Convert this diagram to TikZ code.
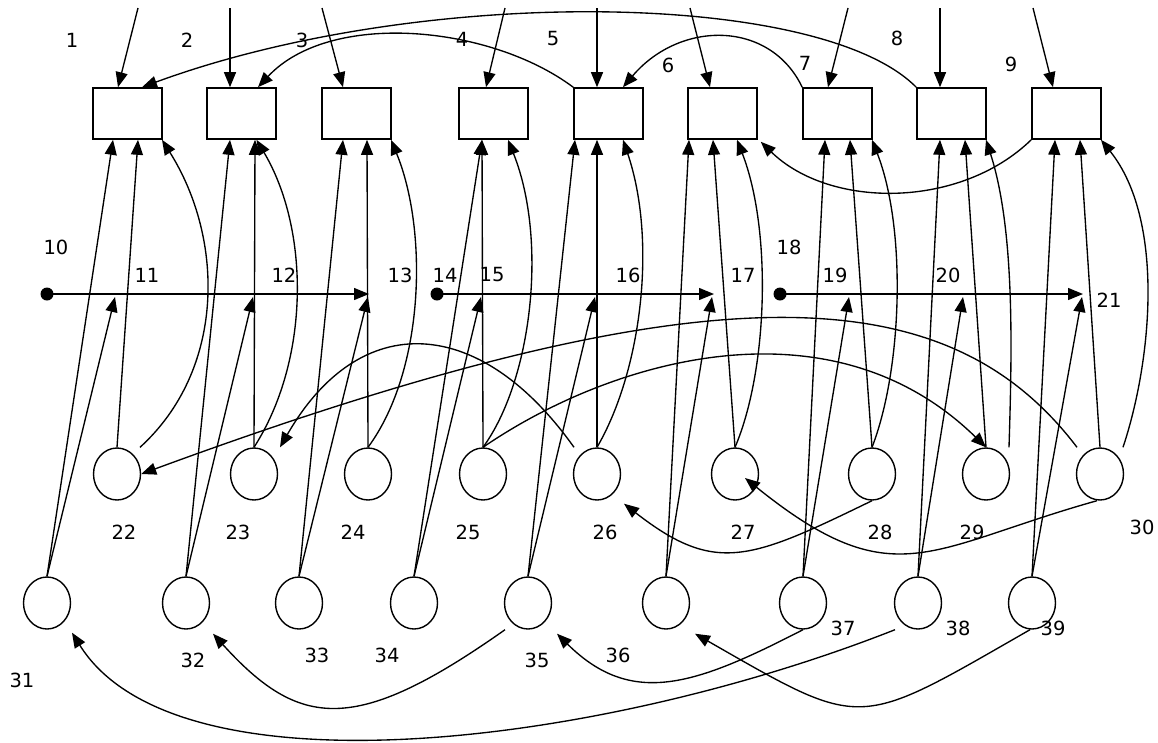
\documentclass[tikz,border=0pt]{standalone}
\usepackage{fontspec}
\setmainfont{DejaVu Sans}
\usetikzlibrary{arrows.meta,shapes.geometric,calc}
\tikzset{
  box/.style={draw,line width=1.6pt,minimum width=69pt,minimum height=51pt,inner sep=0pt},
  circ/.style={ellipse,draw,line width=1.4pt,minimum width=47pt,minimum height=52pt,inner sep=0pt},
  lbl/.style={font=\fontsize{19.5}{20}\selectfont,inner sep=0pt},
  conn/.style={line width=1.35pt,-{Triangle[length=15pt,width=12pt]}},
  dotnode/.style={circle,fill=black,minimum size=13pt,inner sep=0pt}
}
\begin{document}
\begin{tikzpicture}[x=1pt,y=-1pt]
\useasboundingbox[fill=white] (0,0) rectangle (1158,742);
% boxes
\foreach \i/\x in {1/127.5,2/241.5,3/356.5,4/493.5,5/608.5,6/722.5,7/837.5,8/951.5,9/1066.5}
  \node[box] (b\i) at (\x,113.5) {};
% circles row 1
\foreach \i/\x in {22/117,23/254,24/368,25/483,26/597,27/735,28/872,29/986,30/1100}
  \node[circ] (c\i) at (\x,474) {};
% circles row 2
\foreach \i/\x in {31/47,32/186,33/299,34/414,35/528,36/666,37/803,38/918,39/1032}
  \node[circ] (c\i) at (\x,603) {};
% top inputs
\foreach \i/\sx/\dx in {1/138/-9.5,2/230/-11.5,3/322/-13.5,4/505/-7.5,5/597/-11.5,6/690/-12.5,7/848/-9.5,8/940/-11.5,9/1033/-13.5}{
  \coordinate (t\i) at (\sx,8);
  \draw[conn] (t\i) -- ([xshift=\dx pt]b\i.north);
}
% horizontal lines
\node[dotnode] (d10) at (47,294) {};
\node[dotnode] (d14) at (437,294) {};
\node[dotnode] (d18) at (780,294) {};
\coordinate (e13) at (369,294);
\coordinate (e17) at (714,294);
\coordinate (e21) at (1083,294);
\draw[conn] (d10.center) -- (e13);
\draw[conn] (d14.center) -- (e17);
\draw[conn] (d18.center) -- (e21);
\coordinate (p11) at (115,297);
\coordinate (p12) at (253,297);
\coordinate (p13) at (368,297);
\coordinate (p15) at (481,297);
\coordinate (p16) at (595,297);
\coordinate (p17) at (712,297);
\coordinate (p19) at (849,297);
\coordinate (p20) at (963,297);
\coordinate (p21) at (1082,297);
% row 2 to boxes and to horizontal lines
\foreach \c/\b/\bx/\p in {31/1/-14.5/p11,32/2/-11.5/p12,33/3/-13.5/p13,34/4/-11.5/p15,35/5/-33.5/p16,36/6/-33.5/p17,37/7/-12.5/p19,38/8/-11.5/p20,39/9/-11.5/p21}{
  \draw[conn] (c\c.north) -- ([xshift=\bx pt]b\b.south);
  \draw[conn] (c\c.north) -- (\p);
}
% row 1 straight to boxes
\foreach \c/\b/\bx in {22/1/10.5,23/2/13.5,24/3/10.5,25/4/-11.5,26/5/-11.5,27/6/-9.5,28/7/12.5,29/8/13.5,30/9/13.5}
  \draw[conn] (c\c.north) -- ([xshift=\bx pt]b\b.south);
% row 1 curves to boxes
\draw[conn] ([xshift=23pt]c22.north) .. controls (225,370) and (225,240) .. ([xshift=34.5pt]b1.south);
\draw[conn] (c23.north) .. controls (310,360) and (310,230) .. ([xshift=15pt]b2.south);
\draw[conn] (c24.north) .. controls (425,370) and (428,230) .. ([xshift=34.5pt]b3.south);
\draw[conn] (c25.north) .. controls (532,380) and (548,240) .. ([xshift=14.5pt]b4.south);
\draw[conn] (c26.north) .. controls (642,370) and (657,240) .. ([xshift=14.5pt]b5.south);
\draw[conn] (c27.north) .. controls (768,370) and (772,230) .. ([xshift=14.5pt]b6.south);
\draw[conn] (c28.north) .. controls (902,370) and (907,230) .. ([xshift=34.5pt]b7.south);
\draw[conn] ([xshift=23pt]c29.north) .. controls (1012,350) and (1015,230) .. ([xshift=34.5pt]b8.south);
\draw[conn] ([xshift=23pt]c30.north) .. controls (1152,360) and (1165,220) .. ([xshift=34.5pt]b9.south);
% top curves between boxes
\draw[conn] (b8.north west) .. controls (820,-10) and (420,-15) .. ([xshift=14.5pt]b1.north);
\draw[conn] (b5.north west) .. controls (490,25) and (330,10) .. ([xshift=16.5pt]b2.north);
\draw[conn] (b7.north west) .. controls (770,20) and (680,20) .. ([xshift=14.5pt]b5.north);
\draw[conn] (b9.south west) .. controls (960,209) and (830,209) .. ([xshift=3pt,yshift=-2pt]b6.south east);
% row 1 to row 1 curves
\draw[conn] ([xshift=-23pt]c30.north) .. controls (950,280) and (720,261) .. (c22.east);
\draw[conn] (c25.north) .. controls (610,360) and (830,295) .. (c29.north);
\draw[conn] ([xshift=-23pt]c26.north) .. controls (480,315) and (360,308) .. ([xshift=26pt]c23.north);
% lower curves
\draw[conn] (c28.south) .. controls (750,560) and (715.5,575) .. ([xshift=27pt,yshift=-3pt]c26.south);
\draw[conn] ([xshift=-3pt]c30.south) .. controls (928,548) and (894,598) .. ([xshift=10pt,yshift=-4pt]c27.center);
\draw[conn] ([xshift=-23pt]c35.south) .. controls (355,735.5) and (299.4,729) .. ([xshift=27pt,yshift=-4pt]c32.south);
\draw[conn] (c37.south) .. controls (695.5,685) and (632,708) .. ([xshift=29pt,yshift=-4pt]c35.south);
\draw[conn] ([xshift=-2pt]c39.south) .. controls (855,730) and (865,731) .. ([xshift=29pt,yshift=-4pt]c36.south);
\draw[conn] ([xshift=-23pt]c38.south) .. controls (598,746.8) and (175.6,798.5) .. ([xshift=25pt,yshift=-3pt]c31.south);
% labels
\foreach \t/\x/\y in {1/72/40,2/187/40,3/302/40,4/462/39,5/553/39,6/668/65,7/805/63,8/897/38,9/1011/64,
  10/56/247,11/147/275,12/284/275,13/400/275,14/445/275,15/492/275,16/628/275,17/743/275,18/789/247,19/835/275,20/948/275,21/1109/300,
  22/124/532,23/238/532,24/353/532,25/468/532,26/605/532,27/743/532,28/880/532,29/972/532,30/1142/527,
  31/22/680,32/193/660,33/317/655,34/387/655,35/537/660,36/618/655,37/843/628,38/958/628,39/1053/628}
  \node[lbl] (l\t) at (\x,\y) {\t};
\end{tikzpicture}
\end{document}
